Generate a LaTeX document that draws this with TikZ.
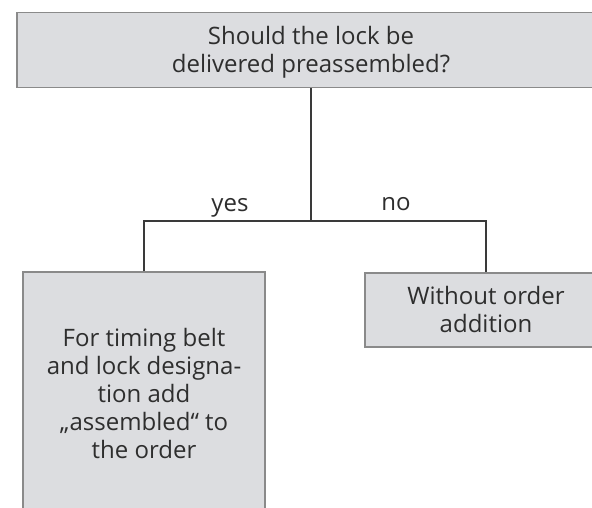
\documentclass[tikz,border=0pt]{standalone}
\usepackage{fontspec}
\setmainfont{Open Sans}
\newcommand{\mystrut}{\rule[-6pt]{0pt}{28pt}}
\definecolor{boxfill}{HTML}{DCDDE0}
\definecolor{boxline}{HTML}{8A8A8A}
\definecolor{txtclr}{HTML}{2E2E2E}
\definecolor{connclr}{HTML}{3A3A3A}
\begin{document}
\begin{tikzpicture}[x=1pt,y=-1pt,
  box/.style={draw=boxline, fill=boxfill, line width=1.2pt, align=center,
    text=txtclr, inner sep=0pt, font=\fontsize{24}{28}\selectfont},
  connector/.style={draw=connclr, line width=1.3pt},
  lbl/.style={text=txtclr, font=\fontsize{24}{28}\selectfont, anchor=base, inner sep=0pt}]
\useasboundingbox (0,0) rectangle (592,507);
\fill[white] (0,0) rectangle (592,507);
\clip (0,0) rectangle (592,507);
\node[box, minimum width=588pt, minimum height=75pt] (top) at (311,50.2)
  {\mystrut Should the lock be\\\mystrut delivered preassembled?};
\node[box, minimum width=242pt, minimum height=245pt] (left) at (144,394.5)
  {\mystrut For timing belt\\\mystrut and lock designa-\\\mystrut tion add\\\mystrut „assembled“ to\\\mystrut the order};
\node[box, minimum width=242pt, minimum height=74pt] (right) at (486,310)
  {\mystrut Without order\\\mystrut addition};
\coordinate (j) at (311,221);
\draw[connector] (top.south) -- (j);
\draw[connector] (left.north) |- (j) -| (right.north);
\node[lbl] (yes) at (230,211) {yes};
\node[lbl] (no) at (396,210) {no};
\end{tikzpicture}
\end{document}
